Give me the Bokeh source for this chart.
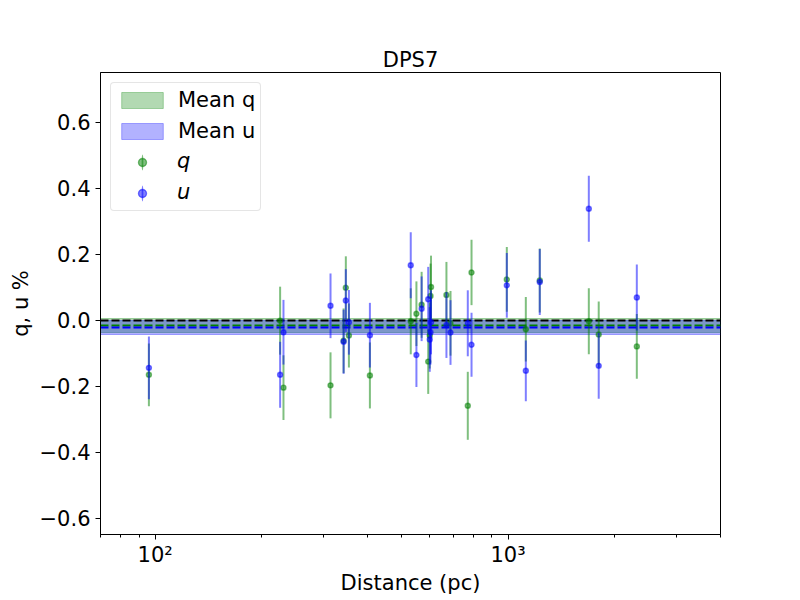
import numpy as np
from bokeh.plotting import figure
from bokeh.models import (ColumnDataSource, Legend, LegendItem, FixedTicker,
                          CustomJSTickFormatter, Range1d)
from bokeh.embed import file_html
from bokeh.resources import INLINE

# ---------------- data ----------------
distance = [96, 226, 231, 314, 342, 347, 354, 406, 530, 550, 569, 594, 600,
            603, 605, 669, 687, 769, 788, 992, 1123, 1230, 1694, 1807, 2317]
q = [-0.166, -0.002, -0.205, -0.198, -0.063, 0.098, -0.047, -0.168, -0.004,
     0.019, 0.046, -0.126, -0.047, 0.073, 0.100, 0.076, -0.010, -0.260, 0.144,
     0.123, -0.028, 0.120, -0.004, -0.044, -0.080]
q_err = [0.095, 0.103, 0.098, 0.100, 0.098, 0.095, 0.097, 0.100, 0.100,
         0.098, 0.100, 0.098, 0.100, 0.098, 0.095, 0.100, 0.098, 0.103, 0.099,
         0.098, 0.098, 0.097, 0.100, 0.100, 0.098]
u = [-0.145, -0.166, -0.037, 0.043, -0.066, 0.059, -0.007, -0.046, 0.166,
     -0.106, 0.034, 0.063, -0.059, -0.037, -0.007, -0.015, -0.038, -0.010,
     -0.075, 0.105, -0.154, 0.115, 0.337, -0.139, 0.068]
u_err = [0.095, 0.100, 0.098, 0.098, 0.097, 0.095, 0.098, 0.098, 0.100,
         0.097, 0.098, 0.098, 0.098, 0.098, 0.097, 0.100, 0.098, 0.100, 0.097,
         0.098, 0.092, 0.100, 0.100, 0.100, 0.100]

mean_q = -0.016
mean_q_err = 0.022
mean_u = -0.022
mean_u_err = 0.022
zero_level = 0.0

x_ticks = [100, 1000]
x_tick_labels = ["10\u00b2", "10\u00b3"]
x_minor_ticks = [70, 80, 90, 200, 300, 400, 500, 600, 700, 800, 900,
                 2000, 3000, 4000]
y_ticks = [-0.6, -0.4, -0.2, 0.0, 0.2, 0.4, 0.6]

title_text = "DPS7"
x_label = "Distance (pc)"
y_label = "q, u %"
legend_labels = ["Mean q", "Mean u", "q", "u"]

# ---------------- styling ----------------
FONT = "DejaVu Sans"
FS = "21px"
QC = "green"
UC = "blue"

p = figure(width=800, height=600, x_axis_type="log",
           x_range=Range1d(70, 4000), y_range=Range1d(-0.65, 0.75),
           output_backend="svg", toolbar_location=None,
           min_border_left=100, min_border_right=80,
           min_border_top=72, min_border_bottom=66)

p.background_fill_color = "white"
p.border_fill_color = "white"
p.outline_line_color = "black"
p.outline_line_width = 1
p.outline_line_alpha = 1
p.xgrid.visible = False
p.ygrid.visible = False

p.title.text = title_text
p.title.align = "center"
p.title.text_font = FONT
p.title.text_font_size = FS
p.title.text_font_style = "normal"
p.title.text_color = "black"
p.title.standoff = 1

for ax in (p.xaxis[0], p.yaxis[0]):
    ax.axis_line_color = "black"
    ax.major_tick_line_color = "black"
    ax.minor_tick_line_color = "black"
    ax.major_tick_out = 5
    ax.major_tick_in = 0
    ax.minor_tick_out = 3
    ax.minor_tick_in = 0
    ax.major_label_text_font = FONT
    ax.major_label_text_font_size = FS
    ax.major_label_text_color = "black"
    ax.axis_label_text_font = FONT
    ax.axis_label_text_font_size = FS
    ax.axis_label_text_font_style = "normal"
    ax.axis_label_text_color = "black"

p.xaxis.ticker = FixedTicker(ticks=x_ticks, minor_ticks=x_minor_ticks)
p.xaxis.major_label_overrides = dict(zip(x_ticks, x_tick_labels))
p.xaxis.major_label_standoff = 3
p.xaxis.axis_label = x_label
p.xaxis.axis_label_standoff = 1

p.yaxis.ticker = FixedTicker(ticks=y_ticks, minor_ticks=[])
p.yaxis.formatter = CustomJSTickFormatter(
    code="return Math.abs(tick) < 1e-9 ? '0.0' : tick.toFixed(1).replace('-', '\u2212');")
p.yaxis.minor_tick_line_color = None
p.yaxis.major_label_standoff = 5
p.yaxis.axis_label = y_label
p.yaxis.axis_label_standoff = 4

# ---------------- glyphs ----------------
qa = np.array(q); qe = np.array(q_err)
ua = np.array(u); ue = np.array(u_err)
src = ColumnDataSource(dict(d=distance, q=q, u=u,
                            q_lo=qa - qe, q_hi=qa + qe,
                            u_lo=ua - ue, u_hi=ua + ue))

band_q = p.hstrip(y0=[mean_q - mean_q_err], y1=[mean_q + mean_q_err],
                  fill_color=QC, fill_alpha=0.3,
                  line_color=QC, line_alpha=0.3, line_width=1)
band_u = p.hstrip(y0=[mean_u - mean_u_err], y1=[mean_u + mean_u_err],
                  fill_color=UC, fill_alpha=0.3,
                  line_color=UC, line_alpha=0.3, line_width=1)

p.hspan(y=[zero_level], line_color="black", line_width=2, line_dash="8 3")
p.hspan(y=[mean_q], line_color=QC, line_width=2, line_dash="8 3")
p.hspan(y=[mean_u], line_color=UC, line_width=2, line_dash="8 3")

seg_q = p.segment(x0="d", y0="q_lo", x1="d", y1="q_hi", source=src,
                  line_color=QC, line_alpha=0.5, line_width=2)
dot_q = p.scatter(x="d", y="q", source=src, size=5, marker="circle",
                  fill_color=QC, fill_alpha=0.5, line_color=QC,
                  line_alpha=0.5, line_width=1.4)
seg_u = p.segment(x0="d", y0="u_lo", x1="d", y1="u_hi", source=src,
                  line_color=UC, line_alpha=0.5, line_width=2)
dot_u = p.scatter(x="d", y="u", source=src, size=5, marker="circle",
                  fill_color=UC, fill_alpha=0.5, line_color=UC,
                  line_alpha=0.5, line_width=1.4)

# legend-only symbols: a thin upright ellipse (no position -> nothing drawn
# in the plot) reproduces the vertical error-bar stroke of the legend
nan_src = ColumnDataSource(dict(x=[np.nan], y=[np.nan]))
leg_bar_q = p.ellipse(x="x", y="y", source=nan_src, width=2.2, height=20,
                      width_units="screen", height_units="screen",
                      fill_color=QC, fill_alpha=0.5, line_alpha=0)
leg_bar_u = p.ellipse(x="x", y="y", source=nan_src, width=2.2, height=20,
                      width_units="screen", height_units="screen",
                      fill_color=UC, fill_alpha=0.5, line_alpha=0)
empty = p.scatter(x=[], y=[], size=0)

common = dict(location="top_left", margin=10, padding=5, spacing=7,
              glyph_width=52, glyph_height=20, label_height=24,
              label_standoff=10, label_text_font=FONT,
              label_text_font_size=FS, label_text_color="black")

legend_a = Legend(items=[
    LegendItem(label=legend_labels[0], renderers=[band_q]),
    LegendItem(label=legend_labels[1], renderers=[band_u]),
    LegendItem(label=" ", renderers=[leg_bar_q, dot_q]),
    LegendItem(label=" ", renderers=[leg_bar_u, dot_u]),
], border_line_color="#cccccc", border_line_width=1, border_radius=4,
   background_fill_color="white", background_fill_alpha=0.8, **common)

legend_b = Legend(items=[
    LegendItem(label=" ", renderers=[empty]),
    LegendItem(label=" ", renderers=[empty]),
    LegendItem(label=legend_labels[2], renderers=[empty]),
    LegendItem(label=legend_labels[3], renderers=[empty]),
], border_line_alpha=0, background_fill_alpha=0,
   label_text_font_style="italic", **common)

p.add_layout(legend_a, "center")
p.add_layout(legend_b, "center")

open("out.html", "w").write(file_html(p, INLINE))
